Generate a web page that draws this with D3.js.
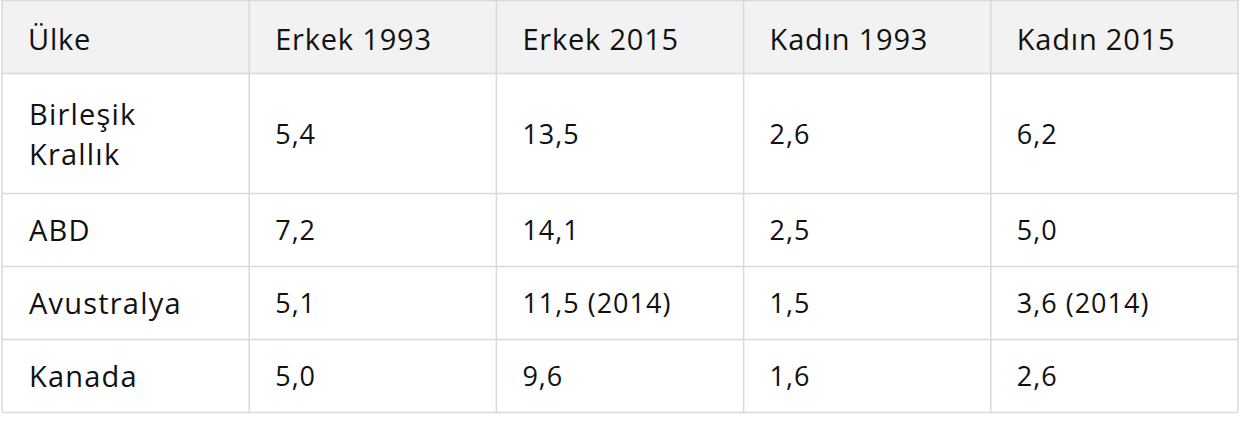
<!DOCTYPE html>
<html><head><meta charset="utf-8">
<script src="https://cdn.jsdelivr.net/npm/d3@7"></script>
<style>body{margin:0;background:#fff}</style></head>
<body><svg id="c" width="1240" height="421"></svg>
<script>
const headers = ["Ülke","Erkek 1993","Erkek 2015","Kadın 1993","Kadın 2015"];
const countries = [["Birleşik","Krallık"],["ABD"],["Avustralya"],["Kanada"]];
const erkek1993 = ["5,4","7,2","5,1","5,0"];
const erkek2015 = ["13,5","14,1","11,5 (2014)","9,6"];
const kadin1993 = ["2,6","2,5","1,5","1,6"];
const kadin2015 = ["6,2","5,0","3,6 (2014)","2,6"];
const rowsRel = [73,120,73,73,73];

const svg = d3.select("#c");
const x = d3.scaleLinear().domain([0,5]).range([2,1238]);
const edges = [0]; rowsRel.forEach(h=>edges.push(edges[edges.length-1]+h));
const y = d3.scaleLinear().domain([0,412]).range([0,412]);
const font = "'Open Sans', sans-serif";
const line = "#d9d9d9";

svg.append("rect").attr("x",x(0)).attr("y",y(0)).attr("width",x(5)-x(0)).attr("height",y(73))
  .attr("fill","#f2f2f2");

edges.forEach(e=>svg.append("line").attr("x1",x(0)).attr("x2",x(5)).attr("y1",y(e)+0.5).attr("y2",y(e)+0.5).attr("stroke",line).attr("stroke-width",1.5));
d3.range(6).forEach(i=>svg.append("line").attr("x1",x(i)).attr("x2",x(i)).attr("y1",y(0)).attr("y2",y(412)).attr("stroke",line).attr("stroke-width",1.5));

headers.forEach((h,i)=>svg.append("text").attr("x",x(i)+26).attr("y",y(38)).attr("dominant-baseline","central")
  .attr("font-family",font).attr("font-size",29).attr("letter-spacing",0.8).attr("fill","#111").text(h));

const cols=[erkek1993,erkek2015,kadin1993,kadin2015];
countries.forEach((c,r)=>{
  const top=edges[r+1], mid=top+rowsRel[r+1]/2;
  const n=c.length;
  c.forEach((t,k)=>svg.append("text").attr("x",x(0)+27).attr("y",y(mid+(k-(n-1)/2)*40)).attr("dominant-baseline","central")
    .attr("font-family",font).attr("font-size",29).attr("letter-spacing",1.2).attr("fill","#111").text(t));
  cols.forEach((col,j)=>svg.append("text").attr("x",x(j+1)+26).attr("y",y(mid)).attr("dominant-baseline","central")
    .attr("font-family",font).attr("font-size",27).attr("letter-spacing",1).attr("fill","#111").text(col[r]));
});
</script></body></html>
